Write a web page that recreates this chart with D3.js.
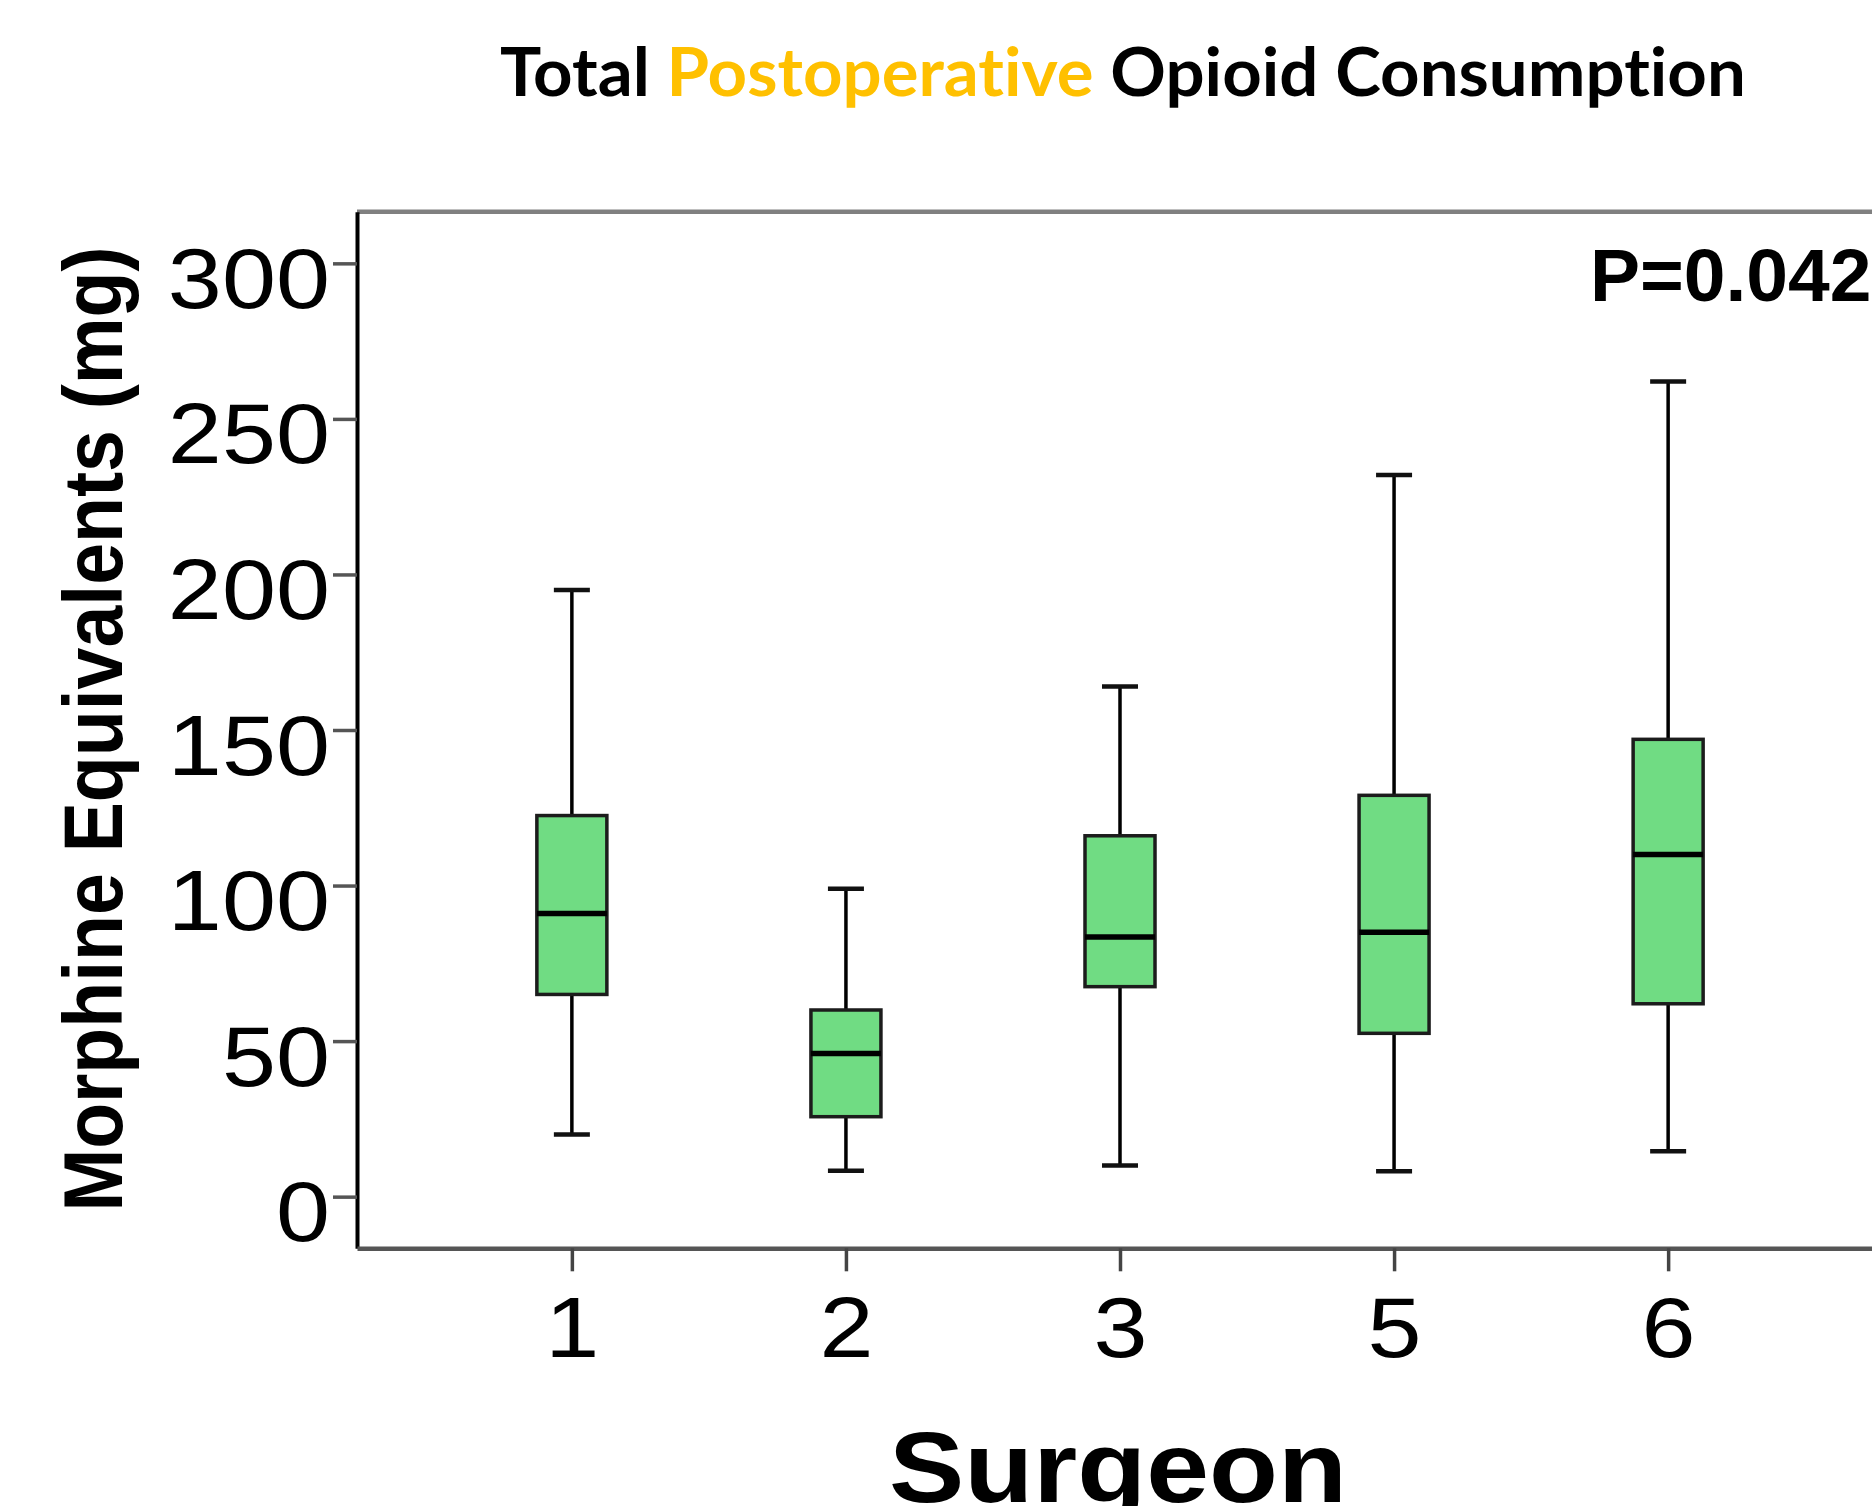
<!DOCTYPE html>
<html>
<head>
<meta charset="utf-8">
<script src="https://cdn.jsdelivr.net/npm/d3@7"></script>
<style>
  body { margin: 0; background: #fff; }
  svg { display: block; }
  text { font-variant-ligatures: none; }
</style>
</head>
<body>
<script>
// box plot summary per surgeon (mg morphine equivalents)
const surgeons = ['1', '2', '3', '5', '6'];
const whiskerHigh = [195, 99, 164, 232, 262];
const q3 = [122.5, 60, 116, 129, 147];
const medians = [91, 46, 83.5, 85, 110];
const q1 = [65, 25.7, 67.5, 52.5, 62];
const whiskerLow = [20, 8.3, 10, 8.2, 14.6];
const yTicks = [0, 50, 100, 150, 200, 250, 300];

const width = 1872, height = 1506;
const plot = { left: 357, right: 1883, top: 211.7, bottom: 1248.3 };
const sx = 1.13; // the original export is stretched sideways

const boxes = surgeons.map((s, i) => ({
  name: s, hi: whiskerHigh[i], q3: q3[i], med: medians[i], q1: q1[i], lo: whiskerLow[i]
}));

const svg = d3.select('body').append('svg')
    .attr('width', width)
    .attr('height', height);

const x = d3.scalePoint()
    .domain(surgeons)
    .range([plot.left, plot.right])
    .padding(0.784);

const y = d3.scaleLinear()
    .domain([-16.6, 316.6])
    .range([plot.bottom, plot.top]);

// title, Calibri-like, fitted to the original width
const title = svg.append('text')
    .attr('font-family', 'Lato, "Open Sans", sans-serif')
    .attr('font-weight', 700)
    .attr('font-size', 66.5)
    .attr('x', 0).attr('y', 0);
title.append('tspan').attr('fill', '#000').text('Total ');
title.append('tspan').attr('fill', '#ffc000').text('Postoperative');
title.append('tspan').attr('fill', '#000').text(' Opioid Consumption');
const tb = title.node().getBBox();
title.attr('transform', `translate(${500 - tb.x * 1246 / tb.width},96) scale(${1246 / tb.width},1)`);

// top frame line
svg.append('line')
    .attr('x1', plot.left).attr('x2', width)
    .attr('y1', plot.top).attr('y2', plot.top)
    .attr('stroke', '#808080').attr('stroke-width', 4.5);

// y axis
const yAxis = svg.append('g')
    .attr('transform', `translate(${plot.left},0)`)
    .call(d3.axisLeft(y).tickValues(yTicks).tickSize(24).tickSizeOuter(0));
yAxis.select('.domain').attr('stroke', '#000').attr('stroke-width', 4);
yAxis.selectAll('.tick line').attr('stroke', '#555').attr('stroke-width', 3.5);
yAxis.selectAll('.tick text')
    .attr('x', null).attr('dy', null).attr('y', 44)
    .attr('transform', `translate(-27,0) scale(${sx},1)`)
    .attr('fill', '#000')
    .attr('font-family', '"Liberation Sans", Arial, sans-serif')
    .attr('font-size', 86)
    .attr('text-anchor', 'end');

// x axis
const xAxis = svg.append('g')
    .attr('transform', `translate(0,${plot.bottom})`)
    .call(d3.axisBottom(x).tickSize(23).tickSizeOuter(0));
xAxis.select('.domain').attr('stroke', '#555').attr('stroke-width', 4.5);
xAxis.selectAll('.tick line').attr('stroke', '#444').attr('stroke-width', 3.5);
xAxis.selectAll('.tick text')
    .attr('y', null).attr('dy', null)
    .attr('transform', `translate(0,109) scale(${sx},1)`)
    .attr('fill', '#000')
    .attr('font-family', '"Liberation Sans", Arial, sans-serif')
    .attr('font-size', 86)
    .attr('text-anchor', 'middle');

// boxes
const boxW = 70, capW = 36;
const g = svg.selectAll('.box')
    .data(boxes)
  .enter().append('g')
    .attr('class', 'box')
    .attr('transform', d => `translate(${x(d.name)},0)`);

g.append('line')
    .attr('x1', 0).attr('x2', 0)
    .attr('y1', d => y(d.hi)).attr('y2', d => y(d.lo))
    .attr('stroke', '#000').attr('stroke-width', 3.5);

g.append('line')
    .attr('x1', -capW / 2).attr('x2', capW / 2)
    .attr('y1', d => y(d.hi)).attr('y2', d => y(d.hi))
    .attr('stroke', '#111').attr('stroke-width', 4.5);

g.append('line')
    .attr('x1', -capW / 2).attr('x2', capW / 2)
    .attr('y1', d => y(d.lo)).attr('y2', d => y(d.lo))
    .attr('stroke', '#111').attr('stroke-width', 4.5);

g.append('rect')
    .attr('x', -boxW / 2)
    .attr('width', boxW)
    .attr('y', d => y(d.q3))
    .attr('height', d => y(d.q1) - y(d.q3))
    .attr('fill', '#70dc83')
    .attr('stroke', '#1c1c1c')
    .attr('stroke-width', 3.5);

g.append('line')
    .attr('x1', -boxW / 2).attr('x2', boxW / 2)
    .attr('y1', d => y(d.med)).attr('y2', d => y(d.med))
    .attr('stroke', '#000').attr('stroke-width', 5.5);

// p-value
svg.append('text')
    .attr('x', 1590).attr('y', 300.7)
    .attr('font-family', '"Liberation Sans", Arial, sans-serif')
    .attr('font-weight', 700)
    .attr('font-size', 75)
    .attr('fill', '#000')
    .text('P=0.042');

// axis titles
svg.append('text')
    .attr('transform', 'translate(121.7,729) rotate(-90)')
    .attr('text-anchor', 'middle')
    .attr('font-family', '"Liberation Sans", Arial, sans-serif')
    .attr('font-weight', 700)
    .attr('font-size', 84)
    .attr('textLength', 965)
    .attr('lengthAdjust', 'spacingAndGlyphs')
    .attr('fill', '#000')
    .text('Morphine Equivalents (mg)');

// sits on the lower edge, its descender clipped as in the original
svg.append('text')
    .attr('x', 1118).attr('y', 1502)
    .attr('text-anchor', 'middle')
    .attr('font-family', '"Liberation Sans", Arial, sans-serif')
    .attr('font-weight', 700)
    .attr('font-size', 100)
    .attr('textLength', 458)
    .attr('lengthAdjust', 'spacingAndGlyphs')
    .attr('fill', '#000')
    .text('Surgeon');
</script>
</body>
</html>
